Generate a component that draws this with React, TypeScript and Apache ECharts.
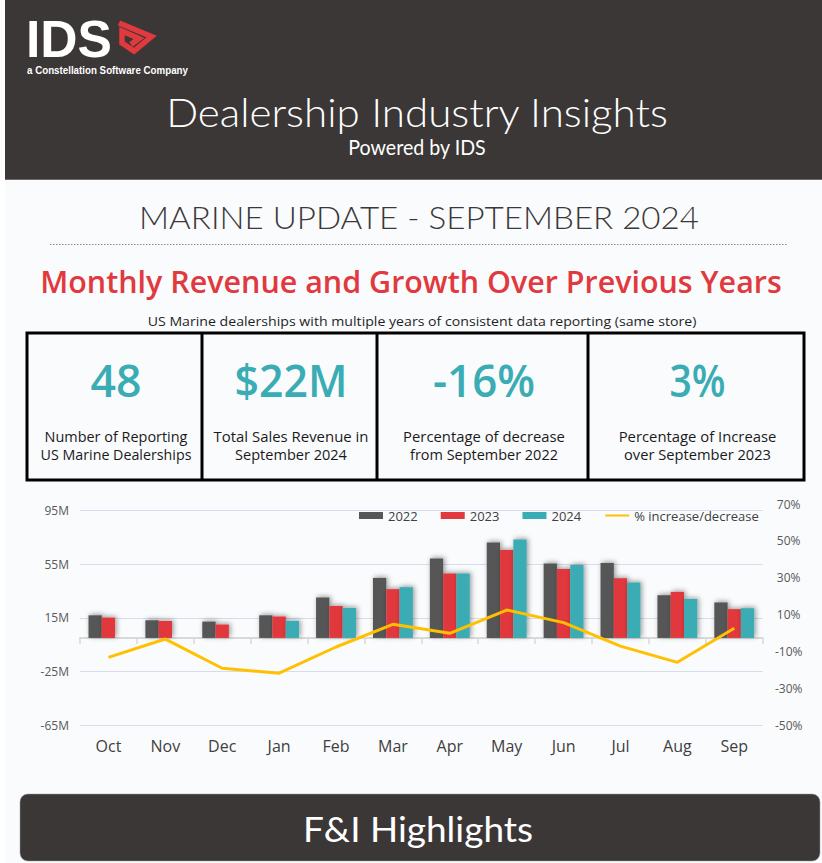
import React, { useEffect, useRef } from 'react';
import * as echarts from 'echarts';

const categories = ['Oct', 'Nov', 'Dec', 'Jan', 'Feb', 'Mar', 'Apr', 'May', 'Jun', 'Jul', 'Aug', 'Sep'];
const revenue2022 = [16.9, 13.2, 12.2, 16.9, 30.2, 44.8, 59.3, 71.2, 55.6, 56.0, 31.9, 26.5];
const revenue2023 = [15.2, 12.7, 10.0, 16.0, 23.9, 36.4, 48.1, 65.7, 51.5, 44.6, 34.4, 21.5];
const revenue2024 = [null, null, null, 12.7, 22.4, 37.9, 48.1, 73.5, 54.5, 41.4, 29.1, 22.2];
const pctChange = [-13.0, -3.1, -18.9, -21.6, -7.4, 4.9, 0.0, 12.6, 5.8, -6.9, -15.7, 2.7];

const revenueTicks = [-65, -25, 15, 55, 95];
const pctTicks = [-50, -30, -10, 10, 30, 50, 70];

const seriesNames = ['2022', '2023', '2024', '% increase/decrease'];

const kpiValues = ['48', '$22M', '-16%', '3%'];
const kpiLabels = [
  ['Number of Reporting', 'US Marine Dealerships'],
  ['Total Sales Revenue in', 'September 2024'],
  ['Percentage of decrease', 'from September 2022'],
  ['Percentage of Increase', 'over September 2023'],
];

const DARK = '#3B3736';
const RED = '#E0393E';
const TEAL = '#3AACB4';
const GREY = '#575757';
const GOLD = '#FFC000';

let measureCtx: CanvasRenderingContext2D | null = null;
function fitScale(text: string, font: string, target: number): number {
  if (!measureCtx) measureCtx = document.createElement('canvas').getContext('2d');
  if (!measureCtx) return 1;
  measureCtx.font = font;
  const w = measureCtx.measureText(text).width;
  return w > 0 ? target / w : 1;
}

function label(text: string, x: number, y: number, size: number, target: number | null, opt: any = {}) {
  const family = opt.family || 'Lato';
  const weight = opt.weight || 'normal';
  const align = opt.align || 'center';
  const sx = target ? fitScale(text, `${weight} ${size}px ${family}`, target) : 1;
  return {
    type: 'text',
    x,
    y,
    scaleX: sx,
    z: 20,
    style: {
      text,
      fill: opt.color || '#222',
      fontSize: size,
      fontFamily: family,
      fontWeight: weight,
      align,
      verticalAlign: 'middle',
      textAlign: align,
      textVerticalAlign: 'middle',
    },
  };
}

export default function App() {
  const ref = useRef<HTMLDivElement>(null);
  useEffect(() => {
    if (!ref.current) return;
    const chart = echarts.init(ref.current, undefined, { renderer: 'svg' });

    const boxDividers = [27, 202, 377, 588, 804];
    const boxTop = 333;
    const boxBottom = 480;
    const kpiNumWidths = [51, 113, 102, 56];
    const kpiLabelWidths = [
      [143, 151],
      [155, 112],
      [162, 148],
      [158, 147],
    ];

    const graphics: any[] = [
      { type: 'rect', shape: { x: 0, y: 0, width: 822, height: 863 }, style: { fill: '#FAFBFD' }, z: 0, silent: true },
      { type: 'rect', shape: { x: 0, y: 0, width: 5, height: 863 }, style: { fill: '#FFFFFF' }, z: 1, silent: true },
      { type: 'rect', shape: { x: 5, y: 0, width: 817, height: 179 }, style: { fill: DARK }, z: 1, silent: true },
      { type: 'line', shape: { x1: 5, y1: 179.5, x2: 822, y2: 179.5 }, style: { stroke: '#6E6C6B', lineWidth: 1 }, z: 2, silent: true },
      label('IDS', 26, 39, 52, 86, { family: 'Liberation Sans', weight: 900, color: '#FFFFFF', align: 'left' }),
      {
        type: 'polyline',
        shape: {
          points: [
            [119, 23], [151.5, 36.5], [134, 51], [122, 43], [122, 31], [139, 38.5], [131, 44.5],
          ],
        },
        style: { stroke: RED, lineWidth: 5.5, lineJoin: 'miter', lineCap: 'butt', fill: null },
        z: 20,
      },
      label('a Constellation Software Company', 27, 70, 10, 161, { family: 'Liberation Sans', weight: 'bold', color: '#FFFFFF', align: 'left' }),
      label('Dealership Industry Insights', 417, 111, 40, 503, { family: 'Lato', weight: 300, color: '#FFFFFF' }),
      label('Powered by IDS', 417, 147, 21, 138, { family: 'Lato', weight: 'normal', color: '#FFFFFF' }),
      label('MARINE UPDATE - SEPTEMBER 2024', 419, 217, 32, 560, { family: 'Lato', weight: 300, color: '#3B3838' }),
      { type: 'line', shape: { x1: 50, y1: 244.5, x2: 787, y2: 244.5 }, style: { stroke: '#8A8A8A', lineWidth: 1, lineDash: [1.5, 1.5] }, z: 2, silent: true },
      label('Monthly Revenue and Growth Over Previous Years', 411, 282, 30, 742, { family: 'Open Sans', weight: 600, color: RED }),
      label('US Marine dealerships with multiple years of consistent data reporting (same store)', 422, 321, 13, 549, { family: 'Open Sans', color: '#1F1F1F' }),
      {
        type: 'rect',
        shape: { x: boxDividers[0], y: boxTop, width: boxDividers[4] - boxDividers[0], height: boxBottom - boxTop },
        style: { fill: null, stroke: '#000000', lineWidth: 3 },
        z: 5,
      },
    ];
    for (let i = 1; i < 4; i++) {
      graphics.push({
        type: 'line',
        shape: { x1: boxDividers[i], y1: boxTop, x2: boxDividers[i], y2: boxBottom },
        style: { stroke: '#000000', lineWidth: 3 },
        z: 5,
      });
    }
    for (let i = 0; i < 4; i++) {
      const cx = (boxDividers[i] + boxDividers[i + 1]) / 2 + 1.5;
      graphics.push(label(kpiValues[i], cx, 379, 46, kpiNumWidths[i], { family: 'Open Sans', weight: 600, color: TEAL }));
      graphics.push(label(kpiLabels[i][0], cx, 436, 15, kpiLabelWidths[i][0], { family: 'Open Sans', color: '#1A1A1A' }));
      graphics.push(label(kpiLabels[i][1], cx, 454, 15, kpiLabelWidths[i][1], { family: 'Open Sans', color: '#1A1A1A' }));
    }
    graphics.push({
      type: 'rect',
      shape: { x: 20, y: 794, width: 800, height: 67, r: 8 },
      style: { fill: DARK, stroke: '#9A9A9A', lineWidth: 0.5 },
      z: 5,
    });
    graphics.push(label('F&I Highlights', 418, 829, 34, 230, { family: 'Lato', weight: 'normal', color: '#FFFFFF' }));

    const barItem = (color: string) => ({
      color,
      shadowBlur: 5,
      shadowColor: 'rgba(0,0,0,0.4)',
      shadowOffsetX: 1.5,
      shadowOffsetY: -1,
    });

    const option: any = {
      animation: false,
      backgroundColor: 'transparent',
      graphic: { elements: graphics },
      legend: {
        left: 354,
        top: 504,
        itemWidth: 24,
        itemHeight: 7,
        itemGap: 23,
        textStyle: { fontSize: 13, color: '#404040', fontFamily: 'Open Sans' },
        data: [
          { name: seriesNames[0], icon: 'rect' },
          { name: seriesNames[1], icon: 'rect' },
          { name: seriesNames[2], icon: 'rect' },
          { name: seriesNames[3], itemStyle: { opacity: 0, borderWidth: 0 } },
        ],
      },
      grid: [
        { left: 80, right: 59.3, top: 510.7, bottom: 138, containLabel: false },
        { left: 80, right: 59.3, top: 504, bottom: 137.3, containLabel: false },
      ],
      xAxis: [
        {
          gridIndex: 0,
          type: 'category',
          data: categories,
          axisLine: { onZero: true, lineStyle: { color: '#D9D9D9', width: 2 } },
          axisTick: { show: true, length: 6, lineStyle: { color: '#D9D9D9', width: 1.5 } },
          axisLabel: { show: false },
        },
        {
          gridIndex: 1,
          type: 'category',
          data: categories,
          position: 'bottom',
          axisLine: { show: false, onZero: false },
          axisTick: { show: false },
          axisLabel: { fontSize: 16, color: '#404040', fontFamily: 'Open Sans', margin: 12 },
        },
      ],
      yAxis: [
        {
          gridIndex: 0,
          type: 'value',
          position: 'left',
          min: revenueTicks[0],
          max: revenueTicks[revenueTicks.length - 1],
          interval: revenueTicks[1] - revenueTicks[0],
          axisLine: { show: false },
          axisTick: { show: false },
          axisLabel: { formatter: (v: number) => `${v}M`, color: '#595959', fontSize: 12, fontFamily: 'Open Sans', margin: 11 },
          splitLine: { lineStyle: { color: '#D5DDEC', width: 1 } },
        },
        {
          gridIndex: 1,
          type: 'value',
          position: 'right',
          min: pctTicks[0],
          max: pctTicks[pctTicks.length - 1],
          interval: pctTicks[1] - pctTicks[0],
          axisLine: { show: false },
          axisTick: { show: false },
          axisLabel: { formatter: (v: number) => `${v}%`, color: '#595959', fontSize: 12, fontFamily: 'Open Sans', margin: 26, align: 'center' },
          splitLine: { show: false },
        },
      ],
      series: [
        { name: seriesNames[0], type: 'bar', xAxisIndex: 0, yAxisIndex: 0, data: revenue2022, barWidth: 13.3, barGap: '0%', itemStyle: barItem(GREY), z: 3 },
        { name: seriesNames[1], type: 'bar', xAxisIndex: 0, yAxisIndex: 0, data: revenue2023, barWidth: 13.3, barGap: '0%', itemStyle: barItem(RED), z: 3 },
        { name: seriesNames[2], type: 'bar', xAxisIndex: 0, yAxisIndex: 0, data: revenue2024, barWidth: 13.3, barGap: '0%', itemStyle: barItem(TEAL), z: 3 },
        {
          name: seriesNames[3],
          type: 'line',
          xAxisIndex: 1,
          yAxisIndex: 1,
          data: pctChange,
          symbol: 'none',
          lineStyle: { color: GOLD, width: 3 },
          itemStyle: { color: GOLD },
          z: 6,
        },
      ],
    };
    chart.setOption(option);
    return () => chart.dispose();
  }, []);

  return <div ref={ref} style={{ position: 'absolute', left: 0, top: 0, width: 822, height: 863 }} />;
}
